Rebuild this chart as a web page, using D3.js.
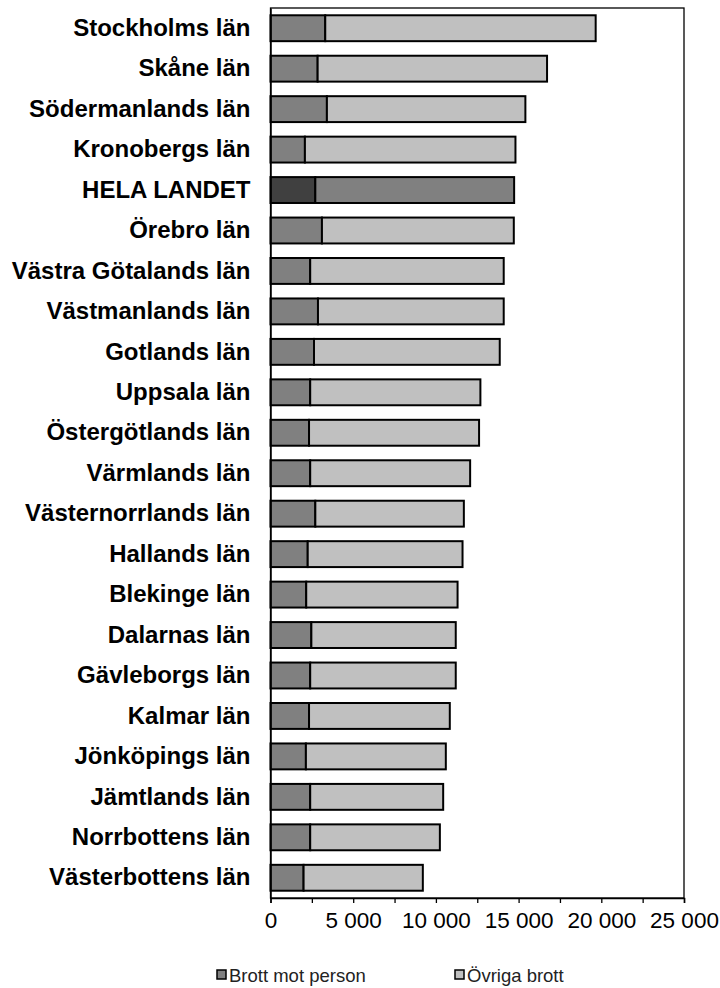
<!DOCTYPE html>
<html>
<head>
<meta charset="utf-8">
<script src="https://cdn.jsdelivr.net/npm/d3@7"></script>
<style>
html, body { margin: 0; padding: 0; background: #fff; }
svg { display: block; }
</style>
</head>
<body>
<svg id="chart" width="720" height="988"></svg>
<script>
const categories = ["Stockholms län","Skåne län","Södermanlands län","Kronobergs län","HELA LANDET","Örebro län","Västra Götalands län","Västmanlands län","Gotlands län","Uppsala län","Östergötlands  län","Värmlands län","Västernorrlands län","Hallands län","Blekinge län","Dalarnas län","Gävleborgs län","Kalmar län","Jönköpings län","Jämtlands län","Norrbottens län","Västerbottens län"];
const brottMotPerson = [3310,2850,3410,2080,2710,3110,2400,2870,2630,2400,2330,2400,2710,2250,2160,2470,2400,2330,2140,2400,2400,2000];
const totalBrott = [19660,16720,15410,14810,14730,14710,14100,14100,13860,12690,12610,12070,11690,11610,11310,11200,11200,10840,10600,10440,10240,9210];
const ovrigaBrott = totalBrott.map((t,i) => t - brottMotPerson[i]);
const xTicks = [0,2500,5000,7500,10000,12500,15000,17500,20000,22500,25000];
const seriesNames = ["Brott mot person","Övriga brott"];
const highlight = "HELA LANDET";

const svg = d3.select("#chart");
const L = 270.5, R = 684, T = 8, B = 898;
const x = d3.scaleLinear().domain([0,25000]).range([L,R]);
const y = d3.scaleBand().domain(categories).range([T,B]).paddingInner(0.36).paddingOuter(0.18);

const rows = categories.map((c,i) => ({c, p: brottMotPerson[i], o: ovrigaBrott[i]}));

// plot border (top/right)
svg.append("rect").attr("x", L).attr("y", T).attr("width", R-L).attr("height", B-T)
  .attr("fill","none").attr("stroke","#000").attr("stroke-width",1.3);

// bars
const g = svg.append("g");
rows.forEach(d => {
  const hl = d.c === highlight;
  g.append("rect").attr("x", x(0)).attr("y", y(d.c)).attr("width", x(d.p)-x(0)).attr("height", y.bandwidth())
    .attr("fill", hl ? "#404040" : "#808080").attr("stroke","#000").attr("stroke-width",2);
  g.append("rect").attr("x", x(d.p)).attr("y", y(d.c)).attr("width", x(d.p+d.o)-x(d.p)).attr("height", y.bandwidth())
    .attr("fill", hl ? "#808080" : "#c0c0c0").attr("stroke","#000").attr("stroke-width",2);
});

// y axis
const yAxis = d3.axisLeft(y).tickSize(0).tickPadding(20);
const ya = svg.append("g").attr("transform",`translate(${L},0)`).call(yAxis);
ya.select(".domain").attr("stroke","#000").attr("stroke-width",1.5);
ya.selectAll("text").attr("font-family","'Liberation Sans', Arial, sans-serif")
  .attr("font-size",24).attr("font-weight","bold").attr("fill","#000");

// x axis
const fmt = v => d3.format(",")(v).replace(/,/g," ");
const xAxis = d3.axisBottom(x).tickValues(xTicks).tickSize(5).tickPadding(9)
  .tickFormat(v => v % 5000 === 0 ? fmt(v) : "");
const xa = svg.append("g").attr("transform",`translate(0,${B})`).call(xAxis);
xa.select(".domain").attr("stroke","#000").attr("stroke-width",1.5);
xa.selectAll(".tick line").attr("stroke","#000").attr("stroke-width",1.3);
xa.selectAll("text").attr("font-family","'Liberation Sans', Arial, sans-serif")
  .attr("font-size",22.5).attr("fill","#000");

// legend
const legendX = [217, 455];
const leg = svg.append("g");
seriesNames.forEach((n,i) => {
  leg.append("rect").attr("x", legendX[i]).attr("y", 970).attr("width", 9).attr("height", 9)
    .attr("fill", i === 0 ? "#808080" : "#c0c0c0").attr("stroke","#000").attr("stroke-width",1.5);
  leg.append("text").attr("x", legendX[i] + 12).attr("y", 982).text(n)
    .attr("font-family","'Liberation Sans', Arial, sans-serif").attr("font-size",18.5).attr("fill","#222");
});
</script>
</body>
</html>
